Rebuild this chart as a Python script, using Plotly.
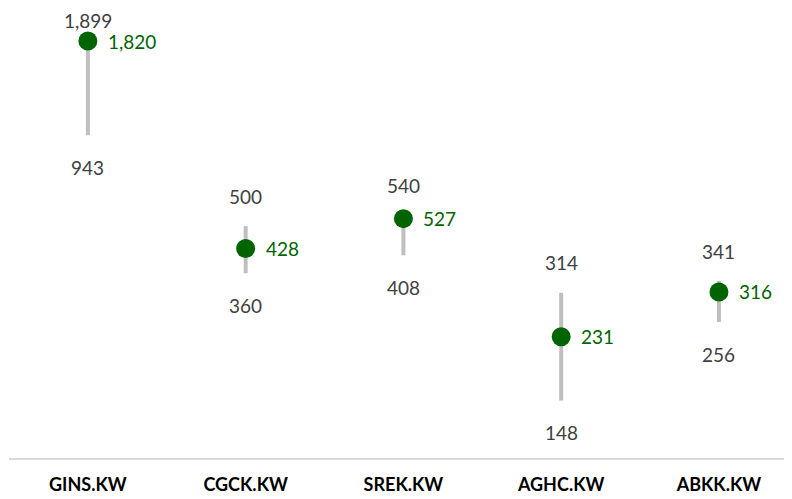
import math
import plotly.graph_objects as go

tickers = ["GINS.KW", "CGCK.KW", "SREK.KW", "AGHC.KW", "ABKK.KW"]
high = [1899, 500, 540, 314, 341]
low = [943, 360, 408, 148, 256]
current = [1820, 428, 527, 231, 316]

GREEN = "#006400"
GRAY_TXT = "#404040"
LINE = "#BFBFBF"
FONT = "Lato"

# page body has an 8px margin, so the figure is sized to fit the window
W, H = 784, 491
ML, MR, MT, MB = 1, 0, 0, 41
yrange = [1.9964, 3.3601]
plot_h = H - MT - MB

def ypix(v):
    return MT + (yrange[1] - math.log10(v)) / (yrange[1] - yrange[0]) * plot_h

fig = go.Figure()
for i, t in enumerate(tickers):
    fig.add_trace(go.Scatter(
        x=[t, t], y=[low[i], high[i]], mode="lines",
        line=dict(color=LINE, width=4), hoverinfo="skip", showlegend=False))

fig.add_trace(go.Scatter(
    x=tickers, y=current, mode="markers",
    marker=dict(color=GREEN, size=19), showlegend=False))

annotations = []
for i, t in enumerate(tickers):
    hp = ypix(high[i])
    shift_hi = min(30, hp - 12)
    annotations.append(dict(x=t, y=math.log10(high[i]), xref="x", yref="y",
                            text=f"{high[i]:,}", showarrow=False, yshift=shift_hi,
                            font=dict(family=FONT, size=19, color=GRAY_TXT)))
    annotations.append(dict(x=t, y=math.log10(low[i]), xref="x", yref="y",
                            text=f"{low[i]:,}", showarrow=False, yshift=-32,
                            font=dict(family=FONT, size=19, color=GRAY_TXT)))
    annotations.append(dict(x=t, y=math.log10(current[i]), xref="x", yref="y",
                            text=f"{current[i]:,}", showarrow=False, xanchor="left",
                            xshift=18, font=dict(family=FONT, size=19, color=GREEN)))

fig.update_layout(
    width=W, height=H,
    margin=dict(l=ML, r=MR, t=MT, b=MB, autoexpand=False),
    plot_bgcolor="white", paper_bgcolor="white",
    annotations=annotations,
    xaxis=dict(type="category", categoryorder="array", categoryarray=tickers,
               range=[-0.5, 4.463], showgrid=False, zeroline=False,
               showline=True, linecolor="#D9D9D9", linewidth=1.5,
               ticks="outside", ticklen=10, tickcolor="rgba(0,0,0,0)",
               tickfont=dict(family=FONT, size=18, color="#000000", weight="bold")),
    yaxis=dict(type="log", range=yrange, visible=False, showgrid=False),
)
fig.write_html("out.html")
